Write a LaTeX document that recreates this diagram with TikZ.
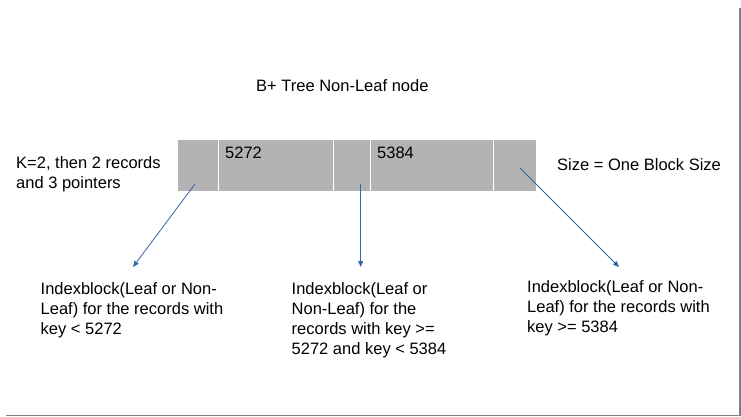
\documentclass[tikz,border=0pt]{standalone}
\usepackage{fontspec}
\setmainfont{Liberation Sans}
\usepackage{xcolor}
\usetikzlibrary{arrows.meta}
\definecolor{blockgray}{HTML}{B3B3B3}
\definecolor{ptrblue}{HTML}{3465A4}
\tikzset{
    txt/.style={inner sep=0pt, anchor=base west, align=left, font=\fontsize{16.5}{20}\selectfont},
    ptr/.style={ptrblue, line width=0.8pt, -{Triangle[length=6pt, width=5pt]}}
}

\begin{document}
\begin{tikzpicture}[x=1pt, y=-1pt]
    \useasboundingbox (0, 0) rectangle (741, 417);
    % Page shadow
    \draw [gray, line width=1.5pt] (740, 8) -- (740, 415.5) -- (6, 415.5);
    % Title
    \node [txt] (title) at (256, 92) {B+ Tree Non-Leaf node};
    % Grey block
    \draw [draw=none, fill=blockgray] (178, 140) rectangle (536, 191);
    % Separators between pointers and records
    \foreach \x in {218.5, 333.5, 370.5, 493.5}
        \draw [white, line width=1.3pt] (\x, 140) -- (\x, 191);
    % Keys
    \node [txt] (keyA) at (225, 158) {5272};
    \node [txt] (keyB) at (377, 158) {5384};
    % Side notes (base = last line)
    \node [txt] (order) at (16, 188.5) {K=2, then 2 records\\and 3 pointers};
    \node [txt] (size) at (557, 170) {Size = One Block Size};
    % Child blocks
    \node [txt] (childA) at (40.5, 334) {Indexblock(Leaf or Non-\\Leaf) for the records with\\key < 5272};
    \node [txt] (childB) at (291.5, 354) {Indexblock(Leaf or\\Non-Leaf) for the\\records with key >=\\5272 and key < 5384};
    \node [txt] (childC) at (527, 332) {Indexblock(Leaf or Non-\\Leaf) for the records with\\key >= 5384};
    % Pointers
    \coordinate (ptrA) at (195, 184);
    \coordinate (ptrB) at (360.7, 184);
    \coordinate (ptrC) at (520, 168);
    \coordinate (endA) at (133, 267);
    \coordinate (endB) at (360.7, 267);
    \coordinate (endC) at (619, 267);
    \draw [ptr] (ptrA) -- (endA);
    \draw [ptr] (ptrB) -- (endB);
    \draw [ptr] (ptrC) -- (endC);
\end{tikzpicture}
\end{document}
